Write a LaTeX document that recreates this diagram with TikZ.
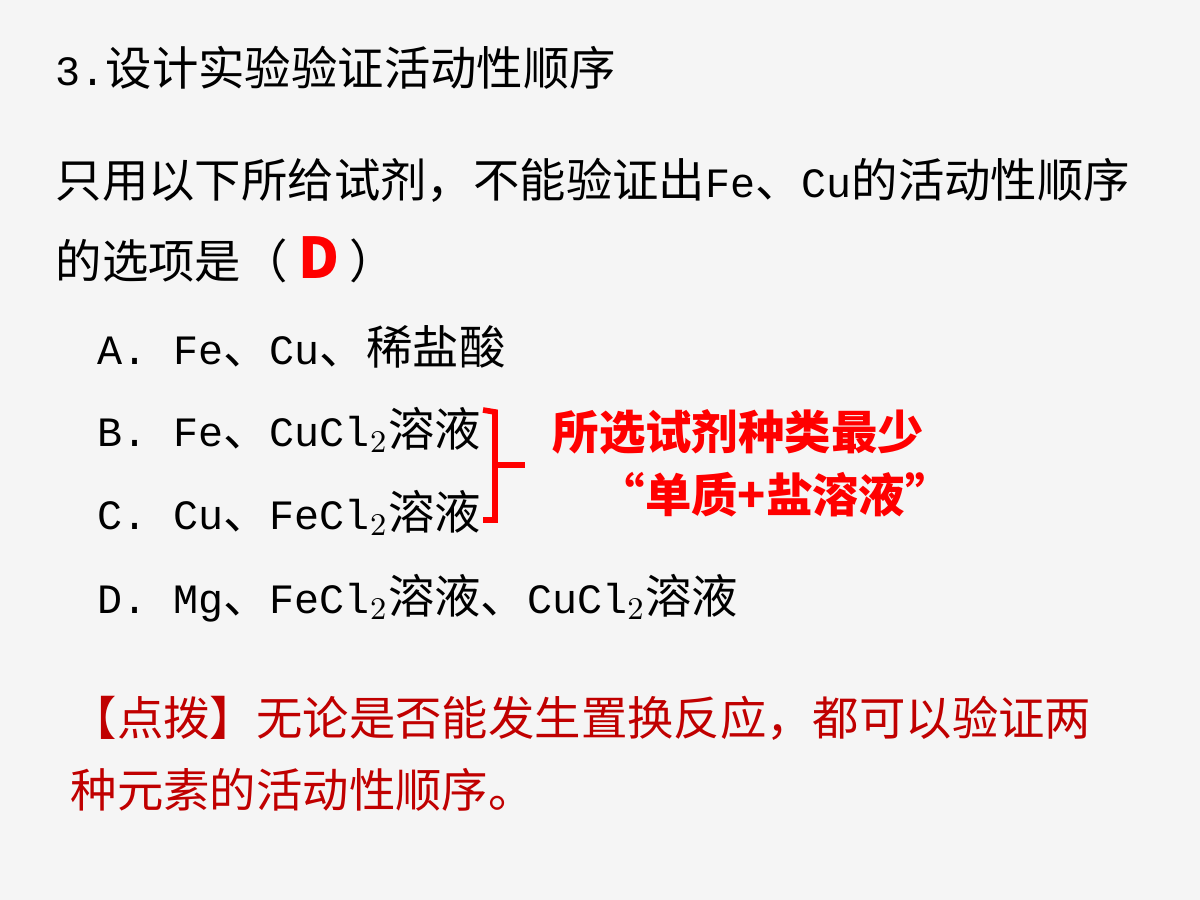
\documentclass[tikz,border=0pt]{standalone}
\usepackage{fontspec}
\setmainfont{Noto Sans CJK SC}
\newfontfamily\mono[Scale=0.9]{Liberation Mono}
\definecolor{slidebg}{RGB}{245,245,245}
\definecolor{hintred}{RGB}{192,0,0}
\newcommand{\optlabel}[1]{{\mono #1.}\hspace{0.55em}}
\begin{document}
\begin{tikzpicture}
    \tikzstyle{txt}=[anchor=west, inner sep=0pt, font=\fontsize{13.2}{16}\selectfont];
    \tikzstyle{redtxt}=[txt, text=red, font=\fontsize{13.2}{16}\selectfont\bfseries];
    \tikzstyle{hint}=[txt, text=hintred];

    \fill[slidebg] (0,0) rectangle (12,-9);

	\node (title) at (0.55, -0.68) [txt] {{\mono 3.}设计实验验证活动性顺序};
	\node (q1) at (0.55, -1.80) [txt] {只用以下所给试剂，不能验证出{\mono Fe}、{\mono Cu}的活动性顺序};
	\node (q2) at (0.55, -2.60) [txt] {的选项是（ \textcolor{red}{\textbf{\fontsize{16}{18}\selectfont D}} ）};
	\node (optA) at (0.97, -3.47) [txt] {\optlabel{A}{\mono Fe}、{\mono Cu}、稀盐酸};
	\node (optB) at (0.97, -4.30) [txt] {\optlabel{B}{\mono Fe}、{\mono CuCl$_2$}溶液};
	\node (optC) at (0.97, -5.13) [txt] {\optlabel{C}{\mono Cu}、{\mono FeCl$_2$}溶液};
	\node (optD) at (0.97, -5.98) [txt] {\optlabel{D}{\mono Mg}、{\mono FeCl$_2$}溶液、{\mono CuCl$_2$}溶液};

    % brace
    \coordinate (bt) at (4.83, -4.10);
    \coordinate (bb) at (4.83, -5.20);
    \coordinate (bm) at (5.25, -4.65);
	\draw[red, line width=1.6pt] (bt) -- ++(0.12,-0.02) |- (bb);
	\draw[red, line width=1.6pt] (4.95, -4.65) -- (bm);

	\node (note1) at (5.52, -4.32) [redtxt] {所选试剂种类最少};
	\node (note2) at (5.98, -4.95) [redtxt] {“单质+盐溶液”};

	\node (hint1) at (0.70, -7.18) [hint] {【点拨】无论是否能发生置换反应，都可以验证两};
	\node (hint2) at (0.70, -7.90) [hint] {种元素的活动性顺序。};
    \end{tikzpicture}
\end{document}
